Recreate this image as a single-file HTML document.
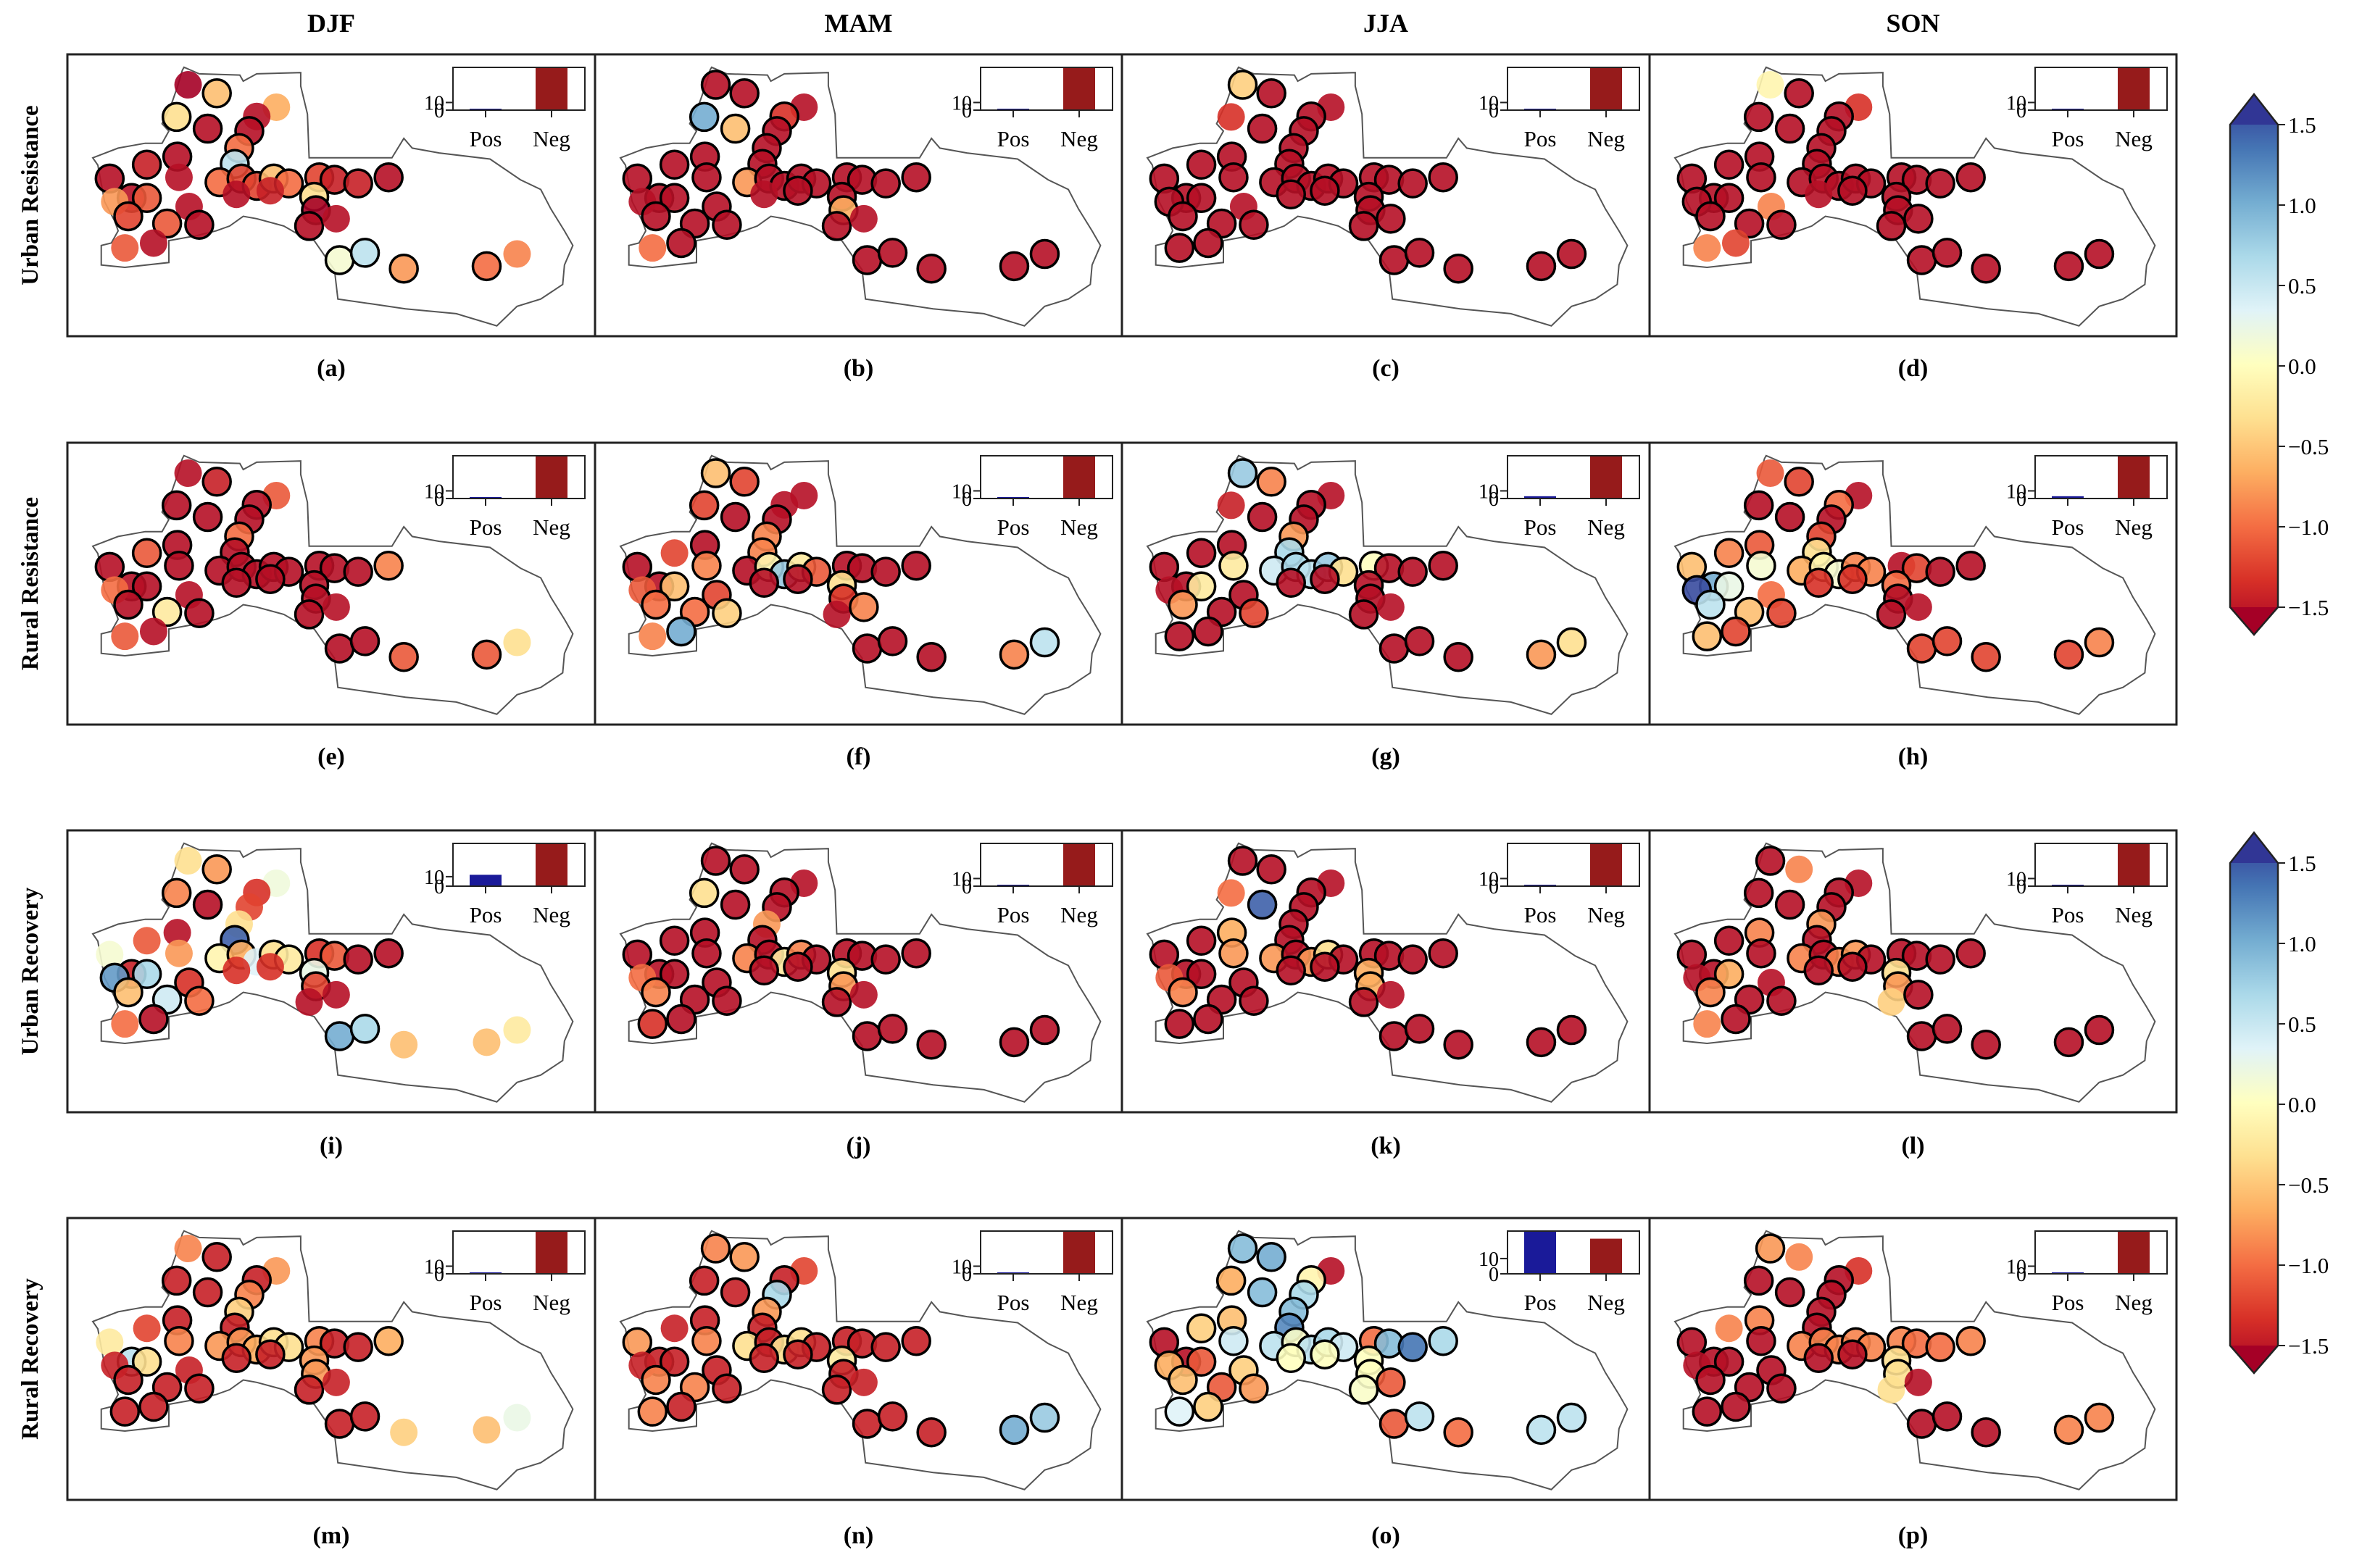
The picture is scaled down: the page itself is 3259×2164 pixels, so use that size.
<!DOCTYPE html>
<html><head><meta charset="utf-8"><style>
html,body{margin:0;padding:0;background:#fff;}
svg{display:block;font-family:"Liberation Serif",serif;}
</style></head><body>
<svg id="fig" width="3259" height="2164" viewBox="0 0 3259 2164" xmlns="http://www.w3.org/2000/svg">
<defs>
<linearGradient id="cmap" x1="0" y1="1" x2="0" y2="0">
<stop offset="0" stop-color="#a50026"/><stop offset="0.1" stop-color="#d73027"/><stop offset="0.2" stop-color="#f46d43"/><stop offset="0.3" stop-color="#fdae61"/><stop offset="0.4" stop-color="#fee090"/><stop offset="0.5" stop-color="#ffffbf"/><stop offset="0.6" stop-color="#e0f3f8"/><stop offset="0.7" stop-color="#abd9e9"/><stop offset="0.8" stop-color="#74add1"/><stop offset="0.9" stop-color="#4575b4"/><stop offset="1" stop-color="#313695"/>
</linearGradient>
</defs>
<g id="root"></g>
</svg>
<script>
const NS="http://www.w3.org/2000/svg";
const stationsZX=[357,442,323,618,560,415,538,508,325,235,495,125,330,450,515,560,610,655,745,790,860,950,190,235,140,360,180,295,390,730,735,715,795,170,255,805,880,995,1240,1330,500,600];
const stationsZY=[140,175,272,232,270,320,330,400,435,468,465,525,520,540,525,555,525,545,520,530,545,520,605,605,620,640,680,710,715,600,655,720,690,810,790,860,830,895,885,835,590,575];
const columnTitles=["DJF","MAM","JJA","SON"];
const rowTitles=["Urban Resistance","Rural Resistance","Urban Recovery","Rural Recovery"];
const panelLetters=["(a)","(b)","(c)","(d)","(e)","(f)","(g)","(h)","(i)","(j)","(k)","(l)","(m)","(n)","(o)","(p)"];
const cbTicks=[1.5,1.0,0.5,0.0,-0.5,-1.0,-1.5];
const cbTickLabels=["1.5","1.0","0.5","0.0","\u22120.5","\u22121.0","\u22121.5"];
const posCounts=[1,0,0,0,0,1,3,3,12,0,0,0,1,1,28,0];
const negCounts=[56,56,56,56,56,56,56,56,45,56,56,56,56,56,23,56];
function fillv(d,ov){const a=new Array(42).fill(d);for(const k in ov)a[k]=ov[k];return a;}
const valsA=[-1.5,-0.5,-0.3,-0.6,-1.4,-1.4,-1.4,-0.9,-1.4,-1.3,0.5,-1.4,-1.4,-0.9,-1.1,-1.1,-0.5,-0.9,-1.1,-1.3,-1.3,-1.4,-1.4,-1.0,-0.7,-1.4,-1.1,-1.0,-1.4,-0.3,-1.5,-1.4,-1.4,-1.0,-1.4,0.1,0.5,-0.7,-0.9,-0.8,-1.4,-1.3];
const valsB=fillv(-1.4,{2:0.9,4:-1.2,5:-0.5,13:-0.7,30:-0.6,33:-0.9});
const valsC=fillv(-1.4,{0:-0.4,2:-1.2});
const valsD=fillv(-1.4,{0:-0.1,3:-1.2,25:-0.8,33:-0.8,34:-1.1});
const valsE=fillv(-1.4,{1:-1.3,3:-1.0,7:-0.9,9:-1.0,21:-0.8,24:-0.9,27:-0.2,33:-1.0,37:-1.0,38:-1.0,39:-0.3});
const valsF=[-0.5,-1.1,-1.1,-1.4,-1.4,-1.4,-1.4,-0.8,-1.4,-1.1,-0.8,-1.4,-0.8,-1.4,-0.1,0.7,-0.2,-1.0,-1.4,-1.4,-1.4,-1.4,-1.4,-0.5,-1.0,-1.1,-0.9,-0.9,-0.4,-0.3,-1.2,-1.4,-0.8,-0.8,0.9,-1.4,-1.4,-1.4,-0.8,0.5,-1.4,-1.4];
const valsG=fillv(-1.4,{0:0.7,1:-0.8,2:-1.3,7:-0.7,10:0.6,12:-0.2,13:0.4,14:0.6,15:0.5,16:0.7,17:-0.3,18:0.0,23:-0.2,26:-0.7,28:-1.1,38:-0.7,39:-0.3});
const valsH=[-1.0,-1.1,-1.4,-1.4,-0.9,-1.4,-1.4,-1.1,-1.0,-0.8,-0.3,-0.5,0.1,-0.6,-0.1,0.1,-0.8,-0.8,-1.4,-1.1,-1.4,-1.4,0.9,0.2,1.4,-0.9,0.5,-0.5,-1.1,-0.9,-1.4,-1.4,-1.4,-0.5,-1.1,-1.1,-1.1,-1.1,-1.1,-0.8,-1.2,-1.2];
const valsI=[-0.3,-0.7,-0.8,0.15,-1.2,-1.4,-1.1,-0.3,-1.4,-1.0,1.3,0.1,-0.7,-0.1,-0.6,0.3,-0.3,-0.2,-1.2,-1.0,-1.4,-1.4,-1.3,0.6,1.0,-1.2,-0.5,0.4,-0.9,0.2,-1.1,-1.4,-1.4,-0.9,-1.4,0.9,0.6,-0.5,-0.5,-0.2,-1.2,-1.2];
const valsJ=fillv(-1.4,{2:-0.3,7:-0.7,13:-0.8,15:-0.2,16:-0.8,24:-0.9,26:-0.8,29:-0.3,30:-0.7,33:-1.2});
const valsK=fillv(-1.4,{2:-0.9,5:1.3,8:-0.6,12:-0.7,13:-0.7,15:-0.7,16:-0.3,24:-1.0,26:-0.8,29:-0.6,30:-0.6});
const valsL=fillv(-1.4,{1:-0.8,7:-0.7,8:-0.8,13:-0.8,15:-0.8,16:-0.7,23:-0.6,26:-0.8,29:-0.3,30:-0.7,31:-0.4,33:-0.8});
const valsM=fillv(-1.3,{0:-0.8,3:-0.7,6:-0.8,7:-0.4,9:-1.1,11:-0.2,12:-0.8,13:-0.7,14:-0.7,15:-0.6,16:-0.3,17:-0.3,18:-0.8,21:-0.6,22:0.5,23:-0.3,29:-0.7,30:-0.7,37:-0.4,38:-0.5,39:0.2});
const valsN=fillv(-1.3,{0:-0.8,1:-0.7,3:-1.1,6:0.6,7:-0.7,11:-0.7,12:-0.8,13:-0.3,15:-0.3,16:-0.3,26:-0.8,27:-0.8,29:-0.2,33:-0.8,38:0.9,39:0.7});
const valsO=[0.8,0.9,-0.6,-1.4,-0.1,0.8,0.6,0.8,-0.5,-0.4,1.1,-1.4,0.4,0.5,0.05,0.5,0.6,0.4,-0.9,0.8,1.2,0.6,-1.4,-1.0,-0.6,-0.4,-0.5,-1.0,-0.7,0.0,0.0,0.05,-1.0,0.3,-0.4,-1.0,0.5,-0.9,0.5,0.5,0.0,0.0];
const valsP=fillv(-1.4,{0:-0.7,1:-0.8,3:-1.2,8:-0.8,9:-0.8,13:-0.8,14:-0.8,15:-0.8,16:-0.8,17:-0.8,18:-0.8,19:-0.9,20:-0.9,21:-0.8,29:-0.3,30:-0.3,31:-0.3,38:-0.8,39:-0.8});
const panelValues=[valsA,valsB,valsC,valsD,valsE,valsF,valsG,valsH,valsI,valsJ,valsK,valsL,valsM,valsN,valsO,valsP];
const noEdge=[[0,3,4,12,24,25,32,33,34,39,40,41],[3,24,32,33,40],[2,3,25],[0,3,25,33,34,40],[0,3,24,25,32,33,34,39],[3,4,9,24,31,33],[2,3,24,32],[0,3,18,25,32],[0,3,4,6,7,8,9,11,12,15,31,32,33,37,38,39,40,41],[3,7,24,32],[2,3,24,32],[1,3,24,25,31,33],[0,3,9,11,24,25,32,37,38,39],[3,9,24,32],[3],[1,3,9,24,31,32]];
const outlineZ=[[345,68],[390,95],[510,100],[520,125],[560,95],[690,90],[690,145],[710,260],[715,440],[960,440],[995,360],[1020,400],[1100,420],[1250,445],[1340,530],[1400,570],[1430,650],[1470,740],[1495,800],[1470,880],[1465,960],[1400,1020],[1330,1050],[1270,1130],[1150,1080],[1000,1060],[900,1040],[800,1020],[790,900],[770,860],[730,780],[690,760],[640,720],[560,690],[520,680],[480,720],[440,740],[380,760],[300,780],[300,870],[170,890],[100,880],[100,800],[130,790],[150,740],[140,700],[110,620],[90,470],[75,440],[150,400],[230,380],[280,380],[300,330],[280,300],[310,210],[325,150],[340,80]];

const colX=[93,821,1548,2276,3003];
const rowY=[75,611,1146,1681];
const PH=389;
const stops=[[165,0,38],[215,48,39],[244,109,67],[253,174,97],[254,224,144],[255,255,191],[224,243,248],[171,217,233],[116,173,209],[69,117,180],[49,54,149]];
function cmap(v){let t=(v+1.5)/3;t=Math.max(0,Math.min(1,t))*10;const i=Math.min(9,Math.floor(t)),f=t-i;const a=stops[i],b=stops[i+1];return `rgb(${a.map((c,k)=>Math.round(c+(b[k]-c)*f)).join(",")})`;}
const mx=z=>z*0.4665, my=z=>z*0.336-5;
const root=document.getElementById("root");
function el(tag,attrs,parent){const e=document.createElementNS(NS,tag);for(const k in attrs)e.setAttribute(k,attrs[k]);(parent||root).appendChild(e);return e;}

columnTitles.forEach((t,i)=>{const e=el("text",{x:(colX[i]+colX[i+1])/2,y:44,"text-anchor":"middle","font-size":36,"font-weight":"bold"});e.textContent=t;

});
rowTitles.forEach((t,i)=>{const cy=rowY[i]+PH/2;const e=el("text",{x:0,y:0,transform:`translate(52,${cy}) rotate(-90)`,"text-anchor":"middle","font-size":33,"font-weight":"bold"});e.textContent=t;

});

for(let r=0;r<4;r++)for(let c=0;c<4;c++){
  const p=r*4+c,ox=colX[c],oy=rowY[r],w=colX[c+1]-colX[c];
  const g=el("g",{transform:`translate(${ox},${oy})`});
  
  
  const ol=el("path",{d:"M"+outlineZ.map(q=>mx(q[0]).toFixed(1)+","+my(q[1]).toFixed(1)).join("L")+"Z",fill:"none",stroke:"#555","stroke-width":2},g);
  
  
  const vals=panelValues[p];
  for(let s=0;s<stationsZX.length;s++){
    const hasEdge=!noEdge[p].includes(s);
    const ci=el("circle",{cx:mx(stationsZX[s]),cy:my(stationsZY[s]),r:19,fill:cmap(vals[s]),"fill-opacity":0.9,stroke:hasEdge?"#000":"none","stroke-width":3.5},g);
    
    
  }
  const ix=532,iy=18,iw=182,ih=59;
  const ymax=Math.max(posCounts[p],negCounts[p]);
  const yS=v=>iy+ih-v/ymax*ih;
  const inset=el("g",{},g);
  
  
  el("rect",{x:ix,y:iy,width:iw,height:ih,fill:"#fff"},inset);
  const bp=el("rect",{x:577-22,y:Math.min(yS(posCounts[p]),iy+ih-2),width:44,height:Math.max(iy+ih-yS(posCounts[p]),2),fill:"#1a1a99"},inset);
  
  
  const bn=el("rect",{x:668-22,y:yS(negCounts[p]),width:44,height:iy+ih-yS(negCounts[p]),fill:"#961b1b"},inset);
  
  
  el("rect",{x:ix,y:iy,width:iw,height:ih,fill:"none",stroke:"#222","stroke-width":2},inset);
  [0,10].forEach(v=>{el("line",{x1:ix-10,x2:ix,y1:yS(v),y2:yS(v),stroke:"#222","stroke-width":2},inset);
    const t=el("text",{x:ix-12,y:yS(v)+10,"text-anchor":"end","font-size":28},inset);t.textContent=String(v);});
  [["Pos",577],["Neg",668]].forEach(([n,x])=>{el("line",{x1:x,x2:x,y1:iy+ih,y2:iy+ih+10,stroke:"#222","stroke-width":2},inset);
    const t=el("text",{x:x,y:127,"text-anchor":"middle","font-size":31},inset);t.textContent=n;});
  const fr=el("rect",{x:0,y:0,width:w,height:PH,fill:"none",stroke:"#222","stroke-width":3},g);
  
  
  const lt=el("text",{x:(colX[c]+colX[c+1])/2,y:[519,1055,1592,2130][r],"text-anchor":"middle","font-size":34,"font-weight":"bold"});
  lt.textContent=panelLetters[p];
  
  
}
[[130,172,838,876],[1149,1191,1857,1895]].forEach((cb,i)=>{
  const [tip,top,bot,btip]=cb,x0=3077,x1=3143,xm=(x0+x1)/2;
  const g=el("g",{});
  
  
  el("path",{d:`M${x0},${top}L${xm},${tip}L${x1},${top}L${x1},${bot}L${xm},${btip}L${x0},${bot}Z`,fill:"url(#cmap)",stroke:"none"},g);
  el("path",{d:`M${x0},${top}L${xm},${tip}L${x1},${top}Z`,fill:"#313695"},g);
  el("path",{d:`M${x0},${bot}L${xm},${btip}L${x1},${bot}Z`,fill:"#a50026"},g);
  el("path",{d:`M${x0},${top}L${xm},${tip}L${x1},${top}L${x1},${bot}L${xm},${btip}L${x0},${bot}Z`,fill:"none",stroke:"#222","stroke-width":2.5},g);
  cbTicks.forEach((v,k)=>{const y=top+(1.5-v)/3*(bot-top);
    el("line",{x1:x1,x2:x1+10,y1:y,y2:y,stroke:"#222","stroke-width":2},g);
    const t=el("text",{x:x1+14,y:y+11,"font-size":31},g);t.textContent=cbTickLabels[k];});
});
</script>
</body></html>
